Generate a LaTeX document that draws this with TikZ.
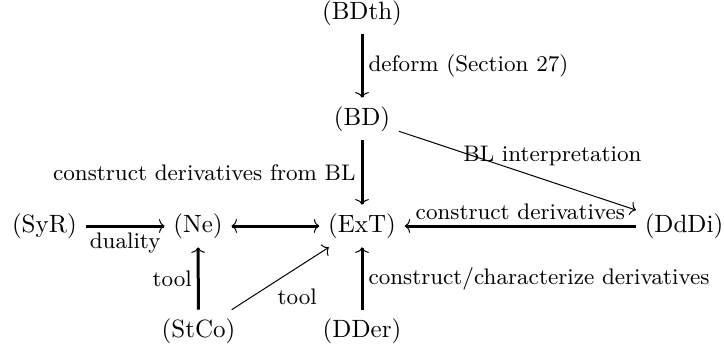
\documentclass[tikz,border=0pt]{standalone}
\usepackage{amsmath}
\usepackage{tikz}
\usetikzlibrary{arrows.meta}
\tikzset{lbl/.style={font=\small, inner sep=2pt},
tip/.style={-{To[line width=0.4pt,length=2.2pt,width=5.5pt]}},
bigarrow/.style={tip, very thick},
%thin arrows for the slanted ones
thinarrow/.style={tip}}

\begin{document}
\begin{tikzpicture}[x=1pt,y=1pt]
\useasboundingbox (0,0) rectangle (289.6,139.6);
% objects
\node (BDth) at (144.8,134.4) {(BDth)};
\node (BD) at (144.8,92.0) {(BD)};
\node (ExT) at (144.8,49.2) {(ExT)};
\node (DDer) at (144.8,7.2) {(DDer)};
\node (SyR) at (17.8,49.2) {(SyR)};
\node (Ne) at (79.2,49.2) {(Ne)};
\node (StCo) at (79.4,7.2) {(StCo)};
\node (DdDi) at (273.6,49.2) {(DdDi)};

% arrows
\draw [bigarrow] (BDth) -- (BD) node[midway,right,lbl]{deform (Section 27)};
\draw [bigarrow] (BD) -- (ExT) node[midway,left,lbl]{construct derivatives from BL};
\draw [thinarrow] (BD) -- (DdDi) node[midway,xshift=14pt,yshift=5.8pt,lbl]{BL interpretation};
\draw [bigarrow] (DdDi) -- (ExT) node[midway,above,lbl]{construct derivatives};
\draw [bigarrow] (SyR) -- (Ne) node[midway,below,lbl]{duality};
\draw [bigarrow,{To[line width=0.4pt,length=2.2pt,width=5.5pt]}-{To[line width=0.4pt,length=2.2pt,width=5.5pt]}] (Ne) -- (ExT);
\draw [bigarrow] (StCo) -- (Ne) node[midway,left,lbl]{tool};
\draw [thinarrow] (StCo) -- (ExT) node[midway,xshift=6.8pt,yshift=-7.2pt,lbl]{tool};
\draw [bigarrow] (DDer) -- (ExT) node[midway,right,lbl]{construct/characterize derivatives};

\end{tikzpicture}
\end{document}
